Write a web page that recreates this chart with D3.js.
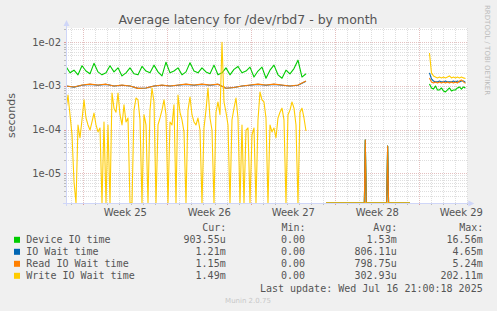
<!DOCTYPE html>
<html>
<head>
<meta charset="utf-8">
<script src="https://cdn.jsdelivr.net/npm/d3@7"></script>
<style>
  body { margin: 0; background: #f0f0f0; }
  svg  { display: block; font-family: "DejaVu Sans", sans-serif; }
  .mono { font-family: "DejaVu Sans Mono", monospace; }
</style>
</head>
<body>
<div id="chart"></div>
<script>
// ── 1. DATA ────────────────────────────────────────────────────
// time is in days, counted from Monday 16 Jun 2025 (start of week 25)
const seriesNames  = ["Device IO time", "IO Wait time", "Read IO Wait time", "Write IO Wait time"];
const seriesColors = ["#00cc00", "#0066b3", "#ff8000", "#ffcc00"];
const curVals = ["903.55u", "1.21m", "1.15m", "1.49m"];
const minVals = ["0.00", "0.00", "0.00", "0.00"];
const avgVals = ["1.53m", "806.11u", "798.75u", "302.93u"];
const maxVals = ["16.56m", "4.65m", "5.24m", "202.11m"];

const weekLabels = ["Week 25", "Week 26", "Week 27", "Week 28", "Week 29"];
const weekStarts = [0, 7, 14, 21, 28];
const yTicks     = [1e-2, 1e-3, 1e-4, 1e-5];
const yTickText  = ["1e-02", "1e-03", "1e-04", "1e-05"];
const xDomain    = [-1.444, 32.0];
const yDomain    = [2.09e-6, 2.126e-2];

// first block of samples (14 Jun .. 4 Jul)
const seg1Start = -1.444;
const write1 = [
  2.8e-4, 6.2e-4, 2.2e-4, 7.6e-5, 6.4e-6, 0, 1.28e-4, 6.5e-5, 1.67e-4, 4.8e-4,
  1.85e-4, 1.28e-4, 9.8e-5, 1.5e-4, 2.4e-4, 1.28e-4, 8.9e-5, 1.09e-4, 0, 1.5e-4,
  0, 1.28e-4, 0, 6.9e-4, 3.1e-4, 2.5e-4, 6.9e-4, 2.2e-4, 1.28e-4, 3.7e-4,
  1.5e-4, 1.85e-4, 0, 0, 2.8e-4, 5.3e-4, 4.8e-4, 1.67e-4, 0, 2.2e-4,
  1.28e-4, 0, 2.8e-4, 9.0e-4, 4.3e-4, 0, 1.28e-4, 1.85e-4, 2.8e-4, 4.8e-4,
  2.2e-4, 0, 1.5e-4, 1.28e-4, 3.7e-4, 0, 6.2e-4, 2.5e-4, 1.67e-4, 8.9e-5,
  0, 2.8e-4, 5.6e-4, 2.2e-4, 1.5e-4, 1.28e-4, 1.85e-4, 9.8e-5, 0, 1.09e-4,
  2.8e-4, 9.0e-4, 1.85e-4, 9.8e-5, 0, 2.5e-4, 4.3e-4, 2.2e-4, 1.0e-2, 4.3e-4,
  2.5e-4, 1.28e-4, 0, 1.67e-4, 3.1e-4, 5.3e-4, 1.85e-4, 0, 1.28e-4, 0,
  9.8e-5, 1.09e-4, 0, 7.6e-5, 1.09e-4, 0, 1.67e-4, 7.3e-4, 4.8e-4, 4.3e-4,
  1.85e-4, 0, 1.28e-4, 8.9e-5, 1.09e-4, 6.5e-5, 1.85e-4, 2.5e-4, 3.1e-4, 1.67e-4,
  0, 2.2e-4, 2.8e-4, 4.3e-4, 3.1e-4, 1.28e-4, 0, 2.5e-4, 3.1e-4, 1.85e-4,
  9.3e-5
];
const device1 = [
  2.8e-3, 2.0e-3, 2.3e-3, 1.8e-3, 2.9e-3, 2.2e-3, 1.9e-3, 3.3e-3, 2.1e-3, 1.8e-3,
  2.0e-3, 2.9e-3, 2.1e-3, 2.6e-3, 1.7e-3, 2.0e-3, 2.6e-3, 1.9e-3, 1.8e-3, 2.8e-3,
  2.2e-3, 2.0e-3, 3.0e-3, 2.1e-3, 1.7e-3, 3.5e-3, 2.0e-3, 2.2e-3, 2.6e-3, 1.8e-3,
  2.1e-3, 3.4e-3, 2.2e-3, 2.0e-3, 2.6e-3, 2.1e-3, 1.9e-3, 3.0e-3, 1.8e-3, 2.0e-3,
  2.6e-3, 1.8e-3, 2.4e-3, 2.8e-3, 2.0e-3, 2.2e-3, 2.7e-3, 1.6e-3, 2.2e-3, 2.7e-3,
  1.5e-3, 2.3e-3, 3.0e-3, 1.8e-3, 1.5e-3, 2.3e-3, 1.9e-3, 2.5e-3, 3.9e-3, 1.6e-3,
  1.9e-3
];
const read1 = [
  1.0e-3, 9.5e-4, 1.05e-3, 1.1e-3, 1.05e-3, 1.1e-3, 1.0e-3, 1.05e-3, 1.0e-3, 8.8e-4,
  9.0e-4, 1.0e-3, 1.05e-3, 1.0e-3, 1.05e-3, 1.1e-3, 1.05e-3, 1.1e-3, 1.05e-3, 1.1e-3,
  8.9e-4, 9.2e-4, 1.0e-3, 1.05e-3, 1.1e-3, 1.05e-3, 1.1e-3, 1.05e-3, 1.0e-3, 1.05e-3,
  1.3e-3
];
const wait1 = [
  1.0e-3, 9.4e-4, 1.04e-3, 1.09e-3, 1.04e-3, 1.09e-3, 1.0e-3, 1.04e-3, 1.0e-3, 8.8e-4,
  9.0e-4, 1.0e-3, 1.04e-3, 1.0e-3, 1.04e-3, 1.09e-3, 1.04e-3, 1.09e-3, 1.04e-3, 1.09e-3,
  8.9e-4, 9.2e-4, 1.0e-3, 1.04e-3, 1.09e-3, 1.04e-3, 1.09e-3, 1.04e-3, 1.0e-3, 1.04e-3,
  1.28e-3
];

// second block of samples (14 Jul .. 17 Jul)
const seg2Start = 28.847;
const write2  = [5.7e-3, 2.0e-3, 1.7e-3, 1.6e-3, 1.53e-3, 1.6e-3, 1.53e-3, 1.6e-3, 1.53e-3, 1.6e-3,
                 1.7e-3, 1.53e-3, 1.6e-3, 1.53e-3, 1.6e-3, 1.53e-3, 1.6e-3, 1.53e-3, 1.49e-3];
const wait2   = [2.0e-3, 1.45e-3, 1.3e-3, 1.24e-3, 1.24e-3, 1.3e-3, 1.24e-3, 1.24e-3, 1.3e-3, 1.24e-3,
                 1.24e-3, 1.24e-3, 1.3e-3, 1.24e-3, 1.3e-3, 1.24e-3, 1.3e-3, 1.3e-3, 1.21e-3];
const read2   = [1.53e-3, 1.24e-3, 1.17e-3, 1.24e-3, 1.17e-3, 1.24e-3, 1.17e-3, 1.24e-3, 1.17e-3, 1.24e-3,
                 1.17e-3, 1.24e-3, 1.17e-3, 1.24e-3, 1.17e-3, 1.3e-3, 1.37e-3, 1.24e-3, 1.15e-3];
const device2 = [1.11e-3, 9.0e-4, 8.5e-4, 1.0e-3, 8.1e-4, 8.1e-4, 9.0e-4, 7.7e-4, 7.3e-4, 8.1e-4,
                 9.0e-4, 7.7e-4, 8.1e-4, 8.1e-4, 9.0e-4, 9.5e-4, 8.5e-4, 9.5e-4, 9.04e-4];

// idle block in week 28 with two short bursts
const seg3Times  = [20.22, 23.42, 23.5, 23.58, 25.28, 25.36, 25.44, 27.22];
const device3    = [0, 0, 5.8e-5, 0, 0, 4.2e-5, 0, 0];
const wait3      = [0, 0, 5.8e-5, 0, 0, 4.2e-5, 0, 0];
const read3      = [0, 0, 5.8e-5, 0, 0, 4.2e-5, 0, 0];
const write3     = [0, 0, 0, 0, 0, 0, 0, 0];

// ── 2. DIMENSIONS ──────────────────────────────────────────────
const W = 497, H = 311;
const plot = { left: 66, right: 467.3, top: 28, bottom: 203 };

const svg = d3.select("#chart").append("svg")
  .attr("width", W).attr("height", H);

svg.append("rect").attr("width", W).attr("height", H).attr("fill", "#f0f0f0");
svg.append("rect")
  .attr("x", plot.left).attr("y", plot.top)
  .attr("width", plot.right - plot.left).attr("height", plot.bottom - plot.top)
  .attr("fill", "#fff");

// ── 3. SCALES ──────────────────────────────────────────────────
const x = d3.scaleLinear().domain(xDomain).range([plot.left, plot.right]);
const y = d3.scaleLog().domain(yDomain).range([plot.bottom, plot.top]);

// ── 4. GRID ────────────────────────────────────────────────────
const grid = svg.append("g").attr("stroke-dasharray", "1,1").attr("shape-rendering", "crispEdges");
const minorCol = "#dedede", majorCol = "#e4c0c0";

// horizontal: 2..9 inside each decade, decades in red
for (let e = -6; e <= -2; e++) {
  for (let k = 1; k <= 9; k++) {
    const v = k * Math.pow(10, e);
    if (v < yDomain[0] || v > yDomain[1]) continue;
    const yy = Math.round(y(v)) + 0.5;
    grid.append("line")
      .attr("x1", plot.left).attr("x2", plot.right)
      .attr("y1", yy).attr("y2", yy)
      .attr("stroke", k === 1 ? majorCol : minorCol);
    svg.append("line")
      .attr("x1", plot.left - 2).attr("x2", plot.left)
      .attr("y1", yy).attr("y2", yy)
      .attr("stroke", k === 1 ? "#d99" : "#bbb");
  }
}
// vertical: one per day, week starts in red
for (let d = Math.ceil(xDomain[0]); d <= xDomain[1]; d++) {
  const xx = Math.round(x(d)) + 0.5;
  const major = weekStarts.includes(d);
  grid.append("line")
    .attr("x1", xx).attr("x2", xx)
    .attr("y1", plot.top).attr("y2", plot.bottom)
    .attr("stroke", major ? majorCol : minorCol);
  svg.append("line")
    .attr("x1", xx).attr("x2", xx)
    .attr("y1", plot.bottom).attr("y2", plot.bottom + 2)
    .attr("stroke", major ? "#d99" : "#bbb");
}

// ── 5. LINES ───────────────────────────────────────────────────
svg.append("clipPath").attr("id", "clip").append("rect")
  .attr("x", plot.left).attr("y", plot.top)
  .attr("width", plot.right - plot.left).attr("height", plot.bottom - plot.top + 1);

const line = d3.line()
  .x(d => x(d.t))
  .y(d => y(Math.max(d.v, yDomain[0])));

const toPoints = (vals, start, step) => vals.map((v, i) => ({ t: start + i * step, v }));
const toPointsAt = (vals, times) => vals.map((v, i) => ({ t: times[i], v }));

const series = [
  [toPoints(device1, seg1Start, 1/3), toPointsAt(device3, seg3Times), toPoints(device2, seg2Start, 1/6)],
  [toPoints(wait1,   seg1Start, 2/3), toPointsAt(wait3,   seg3Times), toPoints(wait2,   seg2Start, 1/6)],
  [toPoints(read1,   seg1Start, 2/3), toPointsAt(read3,   seg3Times), toPoints(read2,   seg2Start, 1/6)],
  [toPoints(write1,  seg1Start, 1/6), toPointsAt(write3,  seg3Times), toPoints(write2,  seg2Start, 1/6)]
];

const lines = svg.append("g").attr("clip-path", "url(#clip)");
series.forEach((segs, i) => {
  lines.selectAll(null)
    .data(segs)
    .join("path")
      .attr("d", line)
      .attr("fill", "none")
      .attr("stroke", seriesColors[i])
      .attr("stroke-width", 1.1)
      .attr("stroke-linejoin", "round");
});

// ── 6. AXES ────────────────────────────────────────────────────
const axisCol = "#cfd6f8";
svg.append("line")
  .attr("x1", plot.left + 0.5).attr("x2", plot.left + 0.5)
  .attr("y1", plot.bottom + 3).attr("y2", plot.top - 4)
  .attr("stroke", axisCol);
svg.append("line")
  .attr("x1", plot.left - 3).attr("x2", plot.right + 4)
  .attr("y1", plot.bottom + 0.5).attr("y2", plot.bottom + 0.5)
  .attr("stroke", axisCol);
svg.append("path")
  .attr("d", `M${plot.left - 2.5},${plot.top - 2} L${plot.left + 3.5},${plot.top - 2} L${plot.left + 0.5},${plot.top - 8} Z`)
  .attr("fill", axisCol);
svg.append("path")
  .attr("d", `M${plot.right + 1},${plot.bottom - 2.5} L${plot.right + 1},${plot.bottom + 3.5} L${plot.right + 7},${plot.bottom + 0.5} Z`)
  .attr("fill", axisCol);

const textCol = "#555";
svg.append("g").selectAll("text")
  .data(yTicks)
  .join("text")
    .attr("x", plot.left - 5)
    .attr("y", d => y(d) + 3.5)
    .attr("text-anchor", "end")
    .attr("font-size", "10px")
    .attr("fill", textCol)
    .text((d, i) => yTickText[i]);

svg.append("g").selectAll("text")
  .data(weekLabels)
  .join("text")
    .attr("x", (d, i) => x(weekStarts[i] + 3.5))
    .attr("y", 216)
    .attr("text-anchor", "middle")
    .attr("font-size", "10px")
    .attr("fill", textCol)
    .text(d => d);

// ── 7. TITLES ──────────────────────────────────────────────────
svg.append("text")
  .attr("x", 248).attr("y", 23.5)
  .attr("text-anchor", "middle")
  .attr("font-size", "12.5px")
  .attr("fill", textCol)
  .text("Average latency for /dev/rbd7 - by month");

svg.append("text")
  .attr("transform", `translate(15,${(plot.top + plot.bottom) / 2}) rotate(-90)`)
  .attr("text-anchor", "middle")
  .attr("font-size", "11px")
  .attr("fill", textCol)
  .text("seconds");

svg.append("text")
  .attr("transform", "translate(485,5) rotate(90)")
  .attr("font-size", "7px")
  .attr("fill", "#bbb")
  .text("RRDTOOL / TOBI OETIKER");

// ── 8. LEGEND ──────────────────────────────────────────────────
const legend = svg.append("g").attr("class", "mono").attr("font-size", "10px").attr("fill", textCol);
const rowY = i => 243.3 + i * 12;
const cols = [
  { head: "Cur:", right: 225.7, vals: curVals },
  { head: "Min:", right: 305,   vals: minVals },
  { head: "Avg:", right: 396.7, vals: avgVals },
  { head: "Max:", right: 482.7, vals: maxVals }
];
cols.forEach(c => {
  legend.append("text").attr("x", c.right - 11.5).attr("y", 231).attr("text-anchor", "middle").text(c.head);
  legend.selectAll(null).data(c.vals).join("text")
    .attr("x", c.right).attr("y", (d, i) => rowY(i))
    .attr("text-anchor", "end")
    .text(d => d);
});
legend.selectAll(null).data(seriesNames).join("text")
  .attr("x", 26.3).attr("y", (d, i) => rowY(i))
  .text(d => d);
svg.selectAll(null).data(seriesColors).join("rect")
  .attr("x", 14).attr("y", (d, i) => rowY(i) - 6.5)
  .attr("width", 6).attr("height", 6)
  .attr("fill", d => d);

legend.append("text")
  .attr("x", 482.7).attr("y", 291.5)
  .attr("text-anchor", "end")
  .text("Last update: Wed Jul 16 21:00:18 2025");

svg.append("text")
  .attr("x", 248).attr("y", 302.5)
  .attr("text-anchor", "middle")
  .attr("font-size", "7px")
  .attr("fill", "#c8c8c8")
  .text("Munin 2.0.75");
</script>
</body>
</html>
